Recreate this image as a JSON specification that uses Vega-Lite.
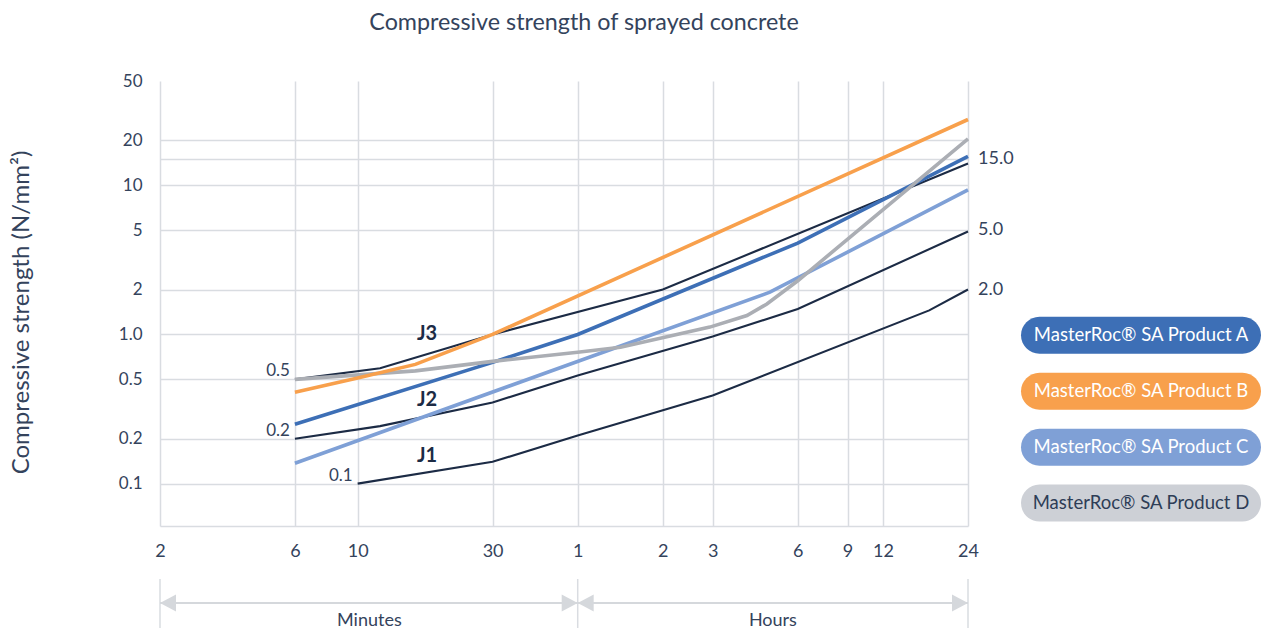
{
  "$schema": "https://vega.github.io/schema/vega-lite/v6.json",
  "background": "white",
  "padding": {"left": 9, "top": 10, "right": 0, "bottom": 0},
  "config": {
    "font": "Lato",
    "view": {"stroke": null},
    "axis": {"labelFont": "Lato", "titleFont": "Lato", "labelColor": "#34435c", "titleColor": "#34435c", "titleFontWeight": "normal"}
  },
  "datasets": {
    "curves": [
      {"series": "J1", "kind": "reference", "t": 10, "v": 0.1},
      {"series": "J1", "kind": "reference", "t": 30, "v": 0.14},
      {"series": "J1", "kind": "reference", "t": 60, "v": 0.21},
      {"series": "J1", "kind": "reference", "t": 180, "v": 0.39},
      {"series": "J1", "kind": "reference", "t": 1050, "v": 1.45},
      {"series": "J1", "kind": "reference", "t": 1440, "v": 2.0},
      {"series": "J2", "kind": "reference", "t": 6, "v": 0.2},
      {"series": "J2", "kind": "reference", "t": 12, "v": 0.243},
      {"series": "J2", "kind": "reference", "t": 30, "v": 0.35},
      {"series": "J2", "kind": "reference", "t": 60, "v": 0.53},
      {"series": "J2", "kind": "reference", "t": 180, "v": 0.97},
      {"series": "J2", "kind": "reference", "t": 360, "v": 1.48},
      {"series": "J2", "kind": "reference", "t": 1440, "v": 4.9},
      {"series": "J3", "kind": "reference", "t": 6, "v": 0.5},
      {"series": "J3", "kind": "reference", "t": 12, "v": 0.594},
      {"series": "J3", "kind": "reference", "t": 30, "v": 1.0},
      {"series": "J3", "kind": "reference", "t": 120, "v": 2.0},
      {"series": "J3", "kind": "reference", "t": 1440, "v": 14},
      {"series": "MasterRoc® SA Product C", "kind": "product", "t": 6, "v": 0.137},
      {"series": "MasterRoc® SA Product C", "kind": "product", "t": 287, "v": 1.92},
      {"series": "MasterRoc® SA Product C", "kind": "product", "t": 1440, "v": 9.3},
      {"series": "MasterRoc® SA Product A", "kind": "product", "t": 6, "v": 0.25},
      {"series": "MasterRoc® SA Product A", "kind": "product", "t": 30, "v": 0.65},
      {"series": "MasterRoc® SA Product A", "kind": "product", "t": 60, "v": 1.0},
      {"series": "MasterRoc® SA Product A", "kind": "product", "t": 360, "v": 4.1},
      {"series": "MasterRoc® SA Product A", "kind": "product", "t": 1440, "v": 15.6},
      {"series": "MasterRoc® SA Product D", "kind": "product", "t": 6, "v": 0.5},
      {"series": "MasterRoc® SA Product D", "kind": "product", "t": 16, "v": 0.57},
      {"series": "MasterRoc® SA Product D", "kind": "product", "t": 30, "v": 0.66},
      {"series": "MasterRoc® SA Product D", "kind": "product", "t": 60, "v": 0.76},
      {"series": "MasterRoc® SA Product D", "kind": "product", "t": 85, "v": 0.82},
      {"series": "MasterRoc® SA Product D", "kind": "product", "t": 176, "v": 1.12},
      {"series": "MasterRoc® SA Product D", "kind": "product", "t": 238, "v": 1.34},
      {"series": "MasterRoc® SA Product D", "kind": "product", "t": 280, "v": 1.6},
      {"series": "MasterRoc® SA Product D", "kind": "product", "t": 360, "v": 2.29},
      {"series": "MasterRoc® SA Product D", "kind": "product", "t": 1440, "v": 20.5},
      {"series": "MasterRoc® SA Product B", "kind": "product", "t": 6, "v": 0.41},
      {"series": "MasterRoc® SA Product B", "kind": "product", "t": 10, "v": 0.51},
      {"series": "MasterRoc® SA Product B", "kind": "product", "t": 16, "v": 0.63},
      {"series": "MasterRoc® SA Product B", "kind": "product", "t": 30, "v": 1.0},
      {"series": "MasterRoc® SA Product B", "kind": "product", "t": 1440, "v": 27.6}
    ],
    "labels": [
      {"kind": "start", "text": "0.5", "t": 6, "v": 0.5},
      {"kind": "start", "text": "0.2", "t": 6, "v": 0.2},
      {"kind": "start", "text": "0.1", "t": 10, "v": 0.1},
      {"kind": "j", "text": "J3", "t": 17.6, "v": 1.0},
      {"kind": "j", "text": "J2", "t": 17.6, "v": 0.365},
      {"kind": "j", "text": "J1", "t": 17.6, "v": 0.153},
      {"kind": "end", "text": "15.0", "t": 1440, "v": 15},
      {"kind": "end", "text": "5.0", "t": 1440, "v": 5},
      {"kind": "end", "text": "2.0", "t": 1440, "v": 2}
    ],
    "legend": [
      {"name": "MasterRoc® SA Product A", "order": 1},
      {"name": "MasterRoc® SA Product B", "order": 2},
      {"name": "MasterRoc® SA Product C", "order": 3},
      {"name": "MasterRoc® SA Product D", "order": 4}
    ],
    "brackets": [
      {"label": "Minutes", "from": 2, "to": 60, "mid": 11},
      {"label": "Hours", "from": 60, "to": 1440, "mid": 294}
    ],
    "edges": [
      {"t": 2}, {"t": 60}, {"t": 1440}
    ]
  },
  "columns": 2,
  "spacing": {"row": 53, "column": 53},
  "bounds": "flush",
  "align": "each",
  "concat": [
    {
      "width": 808,
      "height": 445,
      "title": {"text": "Compressive strength of sprayed concrete", "fontSize": 23.3, "font": "Lato", "fontWeight": "normal", "color": "#34435c", "anchor": "middle", "dx": 20, "offset": 37},
      "layer": [
        {
          "data": {"name": "curves"},
          "transform": [{"filter": "datum.kind == 'reference'"}],
          "mark": {"type": "line", "color": "#1c2b45", "strokeWidth": 2.1},
          "encoding": {
            "x": {
              "field": "t", "type": "quantitative",
              "scale": {"type": "log", "domain": [2, 1440], "nice": false},
              "axis": {
                "values": [2, 6, 10, 30, 60, 120, 180, 360, 540, 720, 1440],
                "labelExpr": "datum.value >= 60 ? format(datum.value / 60, 'd') : format(datum.value, 'd')",
                "grid": true, "gridColor": "#d9dce1", "gridWidth": 1.5,
                "ticks": false, "domain": true, "domainColor": "#d9dce1", "domainWidth": 1.5,
                "labelPadding": 16, "labelFontSize": 18, "labelFlush": false, "labelOverlap": false,
                "title": null
              }
            },
            "y": {
              "field": "v", "type": "quantitative",
              "scale": {"type": "log", "domain": [0.052, 50], "nice": false},
              "axis": {
                "values": [0.1, 0.2, 0.5, 1, 2, 5, 10, 15, 20, 50],
                "labelExpr": "datum.value == 15 ? '' : datum.value == 1 ? '1.0' : datum.value < 1 ? format(datum.value, '.1f') : format(datum.value, 'd')",
                "grid": true, "gridColor": "#d9dce1", "gridWidth": 1.5,
                "gridOpacity": {"condition": {"test": "datum.value == 50", "value": 0}, "value": 1},
                "ticks": false, "domain": false,
                "labelPadding": 18, "labelFontSize": 17, "labelOverlap": false,
                "title": "Compressive strength (N/mm²)", "titleFontSize": 24, "titlePadding": 85, "titleY": 231
              }
            },
            "detail": {"field": "series"}
          }
        },
        {
          "data": {"name": "curves"},
          "transform": [{"filter": "datum.kind == 'product'"}],
          "mark": {"type": "line", "strokeWidth": 3.6},
          "encoding": {
            "x": {"field": "t", "type": "quantitative"},
            "y": {"field": "v", "type": "quantitative"},
            "color": {
              "field": "series", "type": "nominal", "legend": null,
              "scale": {
                "domain": ["MasterRoc® SA Product C", "MasterRoc® SA Product A", "MasterRoc® SA Product D", "MasterRoc® SA Product B"],
                "range": ["#7fa0d6", "#3d6fb6", "#abaeb4", "#f8a04c"]
              }
            }
          }
        },
        {
          "data": {"name": "labels"},
          "transform": [{"filter": "datum.kind == 'start'"}],
          "mark": {"type": "text", "align": "right", "baseline": "middle", "dx": -5, "dy": -8, "fontSize": 17, "color": "#34435c"},
          "encoding": {
            "x": {"field": "t", "type": "quantitative"},
            "y": {"field": "v", "type": "quantitative"},
            "text": {"field": "text"}
          }
        },
        {
          "data": {"name": "labels"},
          "transform": [{"filter": "datum.kind == 'j'"}],
          "mark": {"type": "text", "align": "center", "baseline": "middle", "fontSize": 20, "fontWeight": "bold", "color": "#1c2b45"},
          "encoding": {
            "x": {"field": "t", "type": "quantitative"},
            "y": {"field": "v", "type": "quantitative"},
            "text": {"field": "text"}
          }
        },
        {
          "data": {"name": "labels"},
          "transform": [{"filter": "datum.kind == 'end'"}],
          "mark": {"type": "text", "align": "left", "baseline": "middle", "dx": 10, "fontSize": 18, "color": "#34435c"},
          "encoding": {
            "x": {"field": "t", "type": "quantitative"},
            "y": {"field": "v", "type": "quantitative"},
            "text": {"field": "text"}
          }
        }
      ]
    },
    {
      "width": 240,
      "height": 445,
      "data": {"name": "legend"},
      "layer": [
        {
          "mark": {"type": "bar", "height": 37, "cornerRadius": 18.5},
          "encoding": {
            "x": {"datum": 0, "type": "quantitative", "scale": {"domain": [0, 1], "nice": false}, "axis": null},
            "x2": {"datum": 1},
            "y": {"field": "order", "type": "quantitative", "scale": {"domain": [-3.46, 4.32], "reverse": true, "nice": false, "zero": false}, "axis": null},
            "color": {
              "field": "name", "type": "nominal", "legend": null,
              "scale": {
                "domain": ["MasterRoc® SA Product A", "MasterRoc® SA Product B", "MasterRoc® SA Product C", "MasterRoc® SA Product D"],
                "range": ["#3d6fb6", "#f8a04c", "#7fa0d6", "#cdd0d6"]
              }
            }
          }
        },
        {
          "mark": {"type": "text", "align": "center", "baseline": "middle", "fontSize": 18.5, "font": "Lato"},
          "encoding": {
            "x": {"datum": 0.5, "type": "quantitative"},
            "y": {"field": "order", "type": "quantitative"},
            "text": {"field": "name"},
            "color": {
              "field": "name", "type": "nominal", "legend": null,
              "scale": {
                "domain": ["MasterRoc® SA Product A", "MasterRoc® SA Product B", "MasterRoc® SA Product C", "MasterRoc® SA Product D"],
                "range": ["#ffffff", "#ffffff", "#ffffff", "#2e3d56"]
              }
            }
          }
        }
      ],
      "resolve": {"scale": {"color": "independent"}}
    },
    {
      "width": 808,
      "height": 50,
      "layer": [
        {
          "data": {"name": "edges"},
          "mark": {"type": "rule", "color": "#d9dce1", "strokeWidth": 1.5},
          "encoding": {
            "x": {"field": "t", "type": "quantitative", "scale": {"type": "log", "domain": [2, 1440], "nice": false}, "axis": null}
          }
        },
        {
          "data": {"name": "brackets"},
          "mark": {"type": "rule", "color": "#d5d8dc", "strokeWidth": 2},
          "encoding": {
            "x": {"field": "from", "type": "quantitative"},
            "x2": {"field": "to"},
            "y": {"datum": 0.52, "type": "quantitative", "scale": {"domain": [0, 1], "nice": false}, "axis": null}
          }
        },
        {
          "data": {"name": "brackets"},
          "mark": {"type": "point", "shape": "M0,0L2,-1.05L2,1.05Z", "size": 256, "filled": true, "color": "#d5d8dc", "opacity": 1},
          "encoding": {
            "x": {"field": "from", "type": "quantitative"},
            "y": {"datum": 0.52, "type": "quantitative"}
          }
        },
        {
          "data": {"name": "brackets"},
          "mark": {"type": "point", "shape": "M0,0L-2,-1.05L-2,1.05Z", "size": 256, "filled": true, "color": "#d5d8dc", "opacity": 1},
          "encoding": {
            "x": {"field": "to", "type": "quantitative"},
            "y": {"datum": 0.52, "type": "quantitative"}
          }
        },
        {
          "data": {"name": "brackets"},
          "mark": {"type": "text", "align": "center", "baseline": "middle", "fontSize": 18, "color": "#34435c"},
          "encoding": {
            "x": {"field": "mid", "type": "quantitative"},
            "y": {"datum": 0.16, "type": "quantitative"},
            "text": {"field": "label"}
          }
        }
      ]
    }
  ]
}
